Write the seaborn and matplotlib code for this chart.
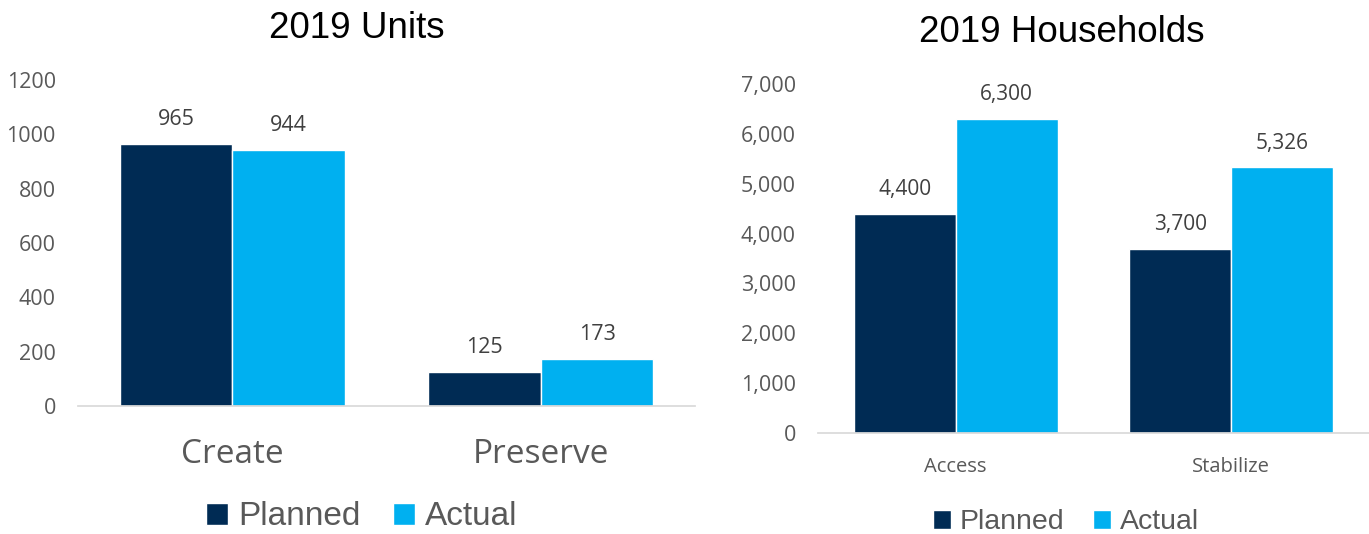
import pandas as pd
import matplotlib.pyplot as plt
import seaborn as sns

# --- data ---
units_cats = ['Create', 'Preserve']
units_planned = [965, 125]
units_actual = [944, 173]

hh_cats = ['Access', 'Stabilize']
hh_planned = [4400, 3700]
hh_actual = [6300, 5326]

series = ['Planned', 'Actual']
colors = {'Planned': '#002B54', 'Actual': '#00B0F0'}
GRAY = '#595959'
NUM_FONT = ['Open Sans', 'DejaVu Sans']

sns.set_theme(style='white')
plt.rcParams['font.family'] = ['Liberation Sans', 'DejaVu Sans']


def long_df(cats, planned, actual):
    return pd.DataFrame({
        'cat': cats * 2,
        'series': ['Planned'] * len(cats) + ['Actual'] * len(cats),
        'value': planned + actual,
    })


def style_ticks(ax, ysize, xsize, xpad):
    for t in ax.get_yticklabels():
        t.set_fontfamily(NUM_FONT)
        t.set_fontsize(ysize)
        t.set_color(GRAY)
    for t in ax.get_xticklabels():
        t.set_fontfamily(NUM_FONT)
        t.set_fontsize(xsize)
        t.set_color(GRAY)
    ax.tick_params(axis='y', length=0, pad=16)
    ax.tick_params(axis='x', length=0, pad=xpad)


fig = plt.figure(figsize=(13.69, 5.34), dpi=100)

# --- left: units ---
ax1 = fig.add_axes([0.057, 0.2397, 0.4507, 0.6105])
sns.barplot(data=long_df(units_cats, units_planned, units_actual), x='cat', y='value',
            hue='series', hue_order=series, palette=colors, width=0.73,
            saturation=1, ax=ax1, legend=True)
ax1.set_ylim(0, 1200)
ax1.set_xlim(-0.5, 1.5)
ax1.set_yticks(range(0, 1201, 200))
for c in ax1.containers:
    ax1.bar_label(c, fmt='{:.0f}', padding=10, fontsize=15.5, color='#404040',
                  family=NUM_FONT)
ax1.set_xlabel('')
ax1.set_ylabel('')
style_ticks(ax1, 15.5, 24, 23)
sns.despine(ax=ax1, left=True)
ax1.spines['bottom'].set_color('#D9D9D9')
ax1.set_title('2019 Units', fontsize=26.5, pad=30, color='black', x=0.452)
ax1.legend(loc='center', bbox_to_anchor=(0.46, -0.34), ncol=2, frameon=False,
           fontsize=24, handlelength=0.65, handleheight=0.65, handletextpad=0.3,
           columnspacing=1.0, labelcolor=GRAY)

# --- right: households ---
ax2 = fig.add_axes([0.5975, 0.1891, 0.4025, 0.6536])
sns.barplot(data=long_df(hh_cats, hh_planned, hh_actual), x='cat', y='value',
            hue='series', hue_order=series, palette=colors, width=0.74,
            saturation=1, ax=ax2, legend=True)
ax2.set_ylim(0, 7000)
ax2.set_xlim(-0.5, 1.5)
ax2.set_yticks(range(0, 7001, 1000))
ax2.yaxis.set_major_formatter(plt.FuncFormatter(lambda v, p: f'{v:,.0f}'))
for c in ax2.containers:
    ax2.bar_label(c, fmt='{:,.0f}', padding=10, fontsize=15, color='#404040',
                  family=NUM_FONT)
ax2.set_xlabel('')
ax2.set_ylabel('')
style_ticks(ax2, 15.5, 14.5, 17)
sns.despine(ax=ax2, left=True)
ax2.spines['bottom'].set_color('#D9D9D9')
ax2.set_title('2019 Households', fontsize=26.5, pad=30, color='black', x=0.443)
ax2.legend(loc='center', bbox_to_anchor=(0.45, -0.255), ncol=2, frameon=False,
           fontsize=20.5, handlelength=0.65, handleheight=0.65, handletextpad=0.3,
           columnspacing=1.0, labelcolor=GRAY)

fig.savefig('out.png', dpi=100)
